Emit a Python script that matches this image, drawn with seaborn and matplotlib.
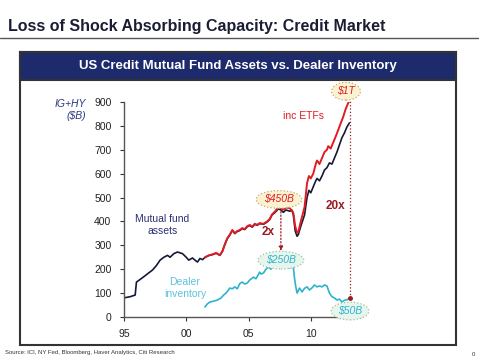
import numpy as np
import pandas as pd
import seaborn as sns
import matplotlib.pyplot as plt
from matplotlib.patches import Rectangle

# mutual fund assets (IG+HY, $B)
mf_years = [1995.0, 1995.5, 1995.9, 1996.0, 1996.5, 1997.0, 1997.3, 1997.6, 1997.9, 1998.2,
            1998.5, 1998.7, 1999.0, 1999.3, 1999.7, 2000.0, 2000.2, 2000.5, 2000.7, 2000.9,
            2001.1, 2001.3, 2001.5, 2001.8, 2002.1, 2002.4, 2002.7, 2002.9, 2003.1, 2003.3,
            2003.5, 2003.7, 2003.9, 2004.1, 2004.3, 2004.5, 2004.7, 2004.9, 2005.1, 2005.3,
            2005.5, 2005.7, 2005.9, 2006.2, 2006.5, 2006.7, 2006.9, 2007.1, 2007.4, 2007.6,
            2007.8, 2008.0, 2008.3, 2008.5, 2008.6, 2008.75, 2008.9, 2009.0, 2009.2, 2009.5,
            2009.7, 2009.85, 2010.0, 2010.2, 2010.4, 2010.5, 2010.7, 2010.9, 2011.1, 2011.3,
            2011.5, 2011.7, 2011.9, 2012.1, 2012.3, 2012.5, 2012.7, 2012.9, 2013.1]
mf_vals = [80, 85, 92, 146, 165, 185, 197, 215, 238, 250,
           258, 250, 265, 272, 265, 250, 238, 247, 238, 230,
           245, 240, 249, 257, 261, 267, 258, 274, 303, 328,
           343, 362, 349, 358, 362, 370, 366, 378, 383, 376,
           388, 384, 391, 388, 398, 408, 428, 436, 453, 448,
           438, 448, 443, 446, 428, 360, 338, 345, 380, 427,
           500, 530, 520, 545, 570, 580, 570, 590, 615, 625,
           645, 640, 665, 690, 720, 750, 770, 795, 812]

# mutual fund assets including ETFs
etf_years = [2001.5, 2001.8, 2002.1, 2002.4, 2002.7, 2002.9, 2003.1, 2003.3, 2003.5, 2003.7,
             2003.9, 2004.1, 2004.3, 2004.5, 2004.7, 2004.9, 2005.1, 2005.3, 2005.5, 2005.7,
             2005.9, 2006.2, 2006.5, 2006.7, 2006.9, 2007.1, 2007.4, 2007.6, 2007.8, 2008.0,
             2008.3, 2008.5, 2008.6, 2008.75, 2008.9, 2009.0, 2009.2, 2009.5, 2009.7, 2009.85,
             2010.0, 2010.2, 2010.4, 2010.5, 2010.7, 2010.9, 2011.1, 2011.3, 2011.4, 2011.6,
             2011.8, 2012.0, 2012.2, 2012.4, 2012.6, 2012.8, 2013.0, 2013.1]
etf_vals = [250, 258, 262, 268, 259, 275, 305, 330, 345, 364,
            351, 360, 364, 372, 368, 380, 385, 378, 390, 386,
            393, 390, 400, 410, 430, 440, 460, 455, 450, 458,
            456, 445, 435, 380, 352, 355, 400, 460, 560, 590,
            580, 600, 640, 655, 640, 665, 690, 700, 715, 705,
            730, 755, 782, 810, 837, 870, 895, 905]

# dealer inventory
dl_years = [2001.5, 2001.7, 2001.9, 2002.2, 2002.5, 2002.8, 2003.0, 2003.2, 2003.5, 2003.7,
            2003.9, 2004.1, 2004.3, 2004.5, 2004.7, 2004.9, 2005.1, 2005.4, 2005.6, 2005.9,
            2006.0, 2006.2, 2006.4, 2006.6, 2006.8, 2006.9, 2007.1, 2007.3, 2007.5, 2007.7,
            2007.9, 2008.1, 2008.3, 2008.5, 2008.6, 2008.7, 2008.8, 2008.9, 2009.1, 2009.3,
            2009.5, 2009.7, 2009.9, 2010.1, 2010.3, 2010.5, 2010.7, 2010.9, 2011.1, 2011.3,
            2011.5, 2011.7, 2011.9, 2012.1, 2012.3, 2012.5, 2012.7, 2012.9, 2013.1]
dl_vals = [42, 55, 63, 66, 71, 80, 92, 100, 121, 118,
           126, 118, 140, 146, 138, 142, 155, 167, 160, 188,
           180, 184, 200, 209, 200, 230, 235, 240, 248, 250,
           240, 215, 205, 215, 210, 160, 126, 100, 121, 105,
           120, 126, 113, 122, 134, 126, 130, 126, 134, 130,
           100, 85, 80, 71, 75, 63, 70, 72, 78]

y_ticks = [0, 100, 200, 300, 400, 500, 600, 700, 800, 900]
x_ticks = [1995, 2000, 2005, 2010]
x_labels = ["95", "00", "05", "10"]

NAVY = "#1d2a6b"
BLACKLINE = "#141a35"
RED = "#e01b22"
CYAN = "#2db4cc"
DARKRED = "#9a1b1f"

sns.set_style("ticks")
plt.rcParams["font.family"] = ["Liberation Sans", "DejaVu Sans"]

fig = plt.figure(figsize=(4.8, 3.59), dpi=100)

# title and frame
fig.text(0.017, 0.925, "Loss of Shock Absorbing Capacity: Credit Market",
         fontsize=11.5, fontweight="bold", color="#1a1d33", va="center")
fig.add_artist(plt.Line2D([0, 0.995], [0.893, 0.893], color="#555555", lw=1.0))
fig.add_artist(Rectangle((0.042, 0.039), 0.908, 0.816, fill=False,
                         edgecolor="#333333", lw=1.5))
fig.add_artist(Rectangle((0.042, 0.777), 0.908, 0.078, facecolor=NAVY,
                         edgecolor="#333333", lw=1.5))
fig.text(0.496, 0.815, "US Credit Mutual Fund Assets vs. Dealer Inventory",
         fontsize=9.5, fontweight="bold", color="white", ha="center", va="center")
fig.text(0.01, 0.018, "Source: ICI, NY Fed, Bloomberg, Haver Analytics, Citi Research",
         fontsize=4.3, color="#333333", va="center")
fig.text(0.99, 0.013, "0", fontsize=4.3, color="#333333", ha="right", va="center")

ax = fig.add_axes([0.2583, 0.117, 0.4929, 0.599])

mf = pd.DataFrame({"year": mf_years, "value": mf_vals})
etf = pd.DataFrame({"year": etf_years, "value": etf_vals})
dl = pd.DataFrame({"year": dl_years, "value": dl_vals})

sns.lineplot(data=mf, x="year", y="value", color=BLACKLINE, lw=1.2, ax=ax)
sns.lineplot(data=etf, x="year", y="value", color=RED, lw=1.4, ax=ax)
sns.lineplot(data=dl, x="year", y="value", color=CYAN, lw=1.2, ax=ax)

ax.set_xlim(1995, 2014)
ax.set_ylim(0, 900)
ax.set_yticks(y_ticks)
ax.set_xticks(x_ticks)
ax.set_xticklabels(x_labels)
ax.set_xlabel("")
ax.set_ylabel("")
ax.tick_params(labelsize=7.5, length=3, width=0.8, colors="#333333", labelcolor="#222222")
ax.tick_params(axis="y", pad=6)
ax.tick_params(axis="x", pad=6)
for s in ["top", "right"]:
    ax.spines[s].set_visible(False)
for s in ["left", "bottom"]:
    ax.spines[s].set_color("#555555")
    ax.spines[s].set_linewidth(1.0)

# dotted guides
ax.annotate("", xy=(2007.6, 265), xytext=(2007.6, 452),
            arrowprops=dict(arrowstyle="-|>", linestyle=":", color=DARKRED,
                            lw=0.9, mutation_scale=6))
ax.plot([2013.15, 2013.15], [78, 905], ls=":", color=DARKRED, lw=0.9, clip_on=False)
ax.plot([2013.15], [78], "o", color=DARKRED, ms=2.5, clip_on=False)

yel = dict(boxstyle="ellipse,pad=0.12", fc="#fbf2d2", ec="#c9a86a", ls=":", lw=0.9)
cya = dict(boxstyle="ellipse,pad=0.12", fc="#e8f5ee", ec="#9cc39a", ls=":", lw=0.9)
ax.text(2012.83, 945, "$1T", color=RED, fontsize=7.5, style="italic",
        ha="center", va="center", bbox=yel, clip_on=False)
ax.text(2007.45, 492, "$450B", color=RED, fontsize=7.5, style="italic",
        ha="center", va="center", bbox=yel)
ax.text(2007.6, 238, "$250B", color=CYAN, fontsize=7.5, style="italic",
        ha="center", va="center", bbox=cya)
ax.text(2013.15, 25, "$50B", color=CYAN, fontsize=7.5, style="italic",
        ha="center", va="center", bbox=cya, clip_on=False)

ax.text(2009.4, 841, "inc ETFs", color=RED, fontsize=7.5, ha="center", va="center")
ax.text(2011.95, 464, "20x", color=DARKRED, fontsize=8.5, fontweight="bold",
        ha="center", va="center")
ax.text(2006.55, 356, "2x", color=DARKRED, fontsize=8.5, fontweight="bold",
        ha="center", va="center")
ax.text(1998.1, 385, "Mutual fund\nassets", color="#2a3170", fontsize=7.5,
        ha="center", va="center", linespacing=1.3)
ax.text(1999.9, 121, "Dealer\ninventory", color="#5cc3da", fontsize=7.5,
        ha="center", va="center", linespacing=1.3)
fig.text(0.179, 0.693, "IG+HY\n($B)", color="#2b3a80", fontsize=7.5, style="italic",
         ha="right", va="center", linespacing=1.2)

fig.savefig("out.png", dpi=100)
